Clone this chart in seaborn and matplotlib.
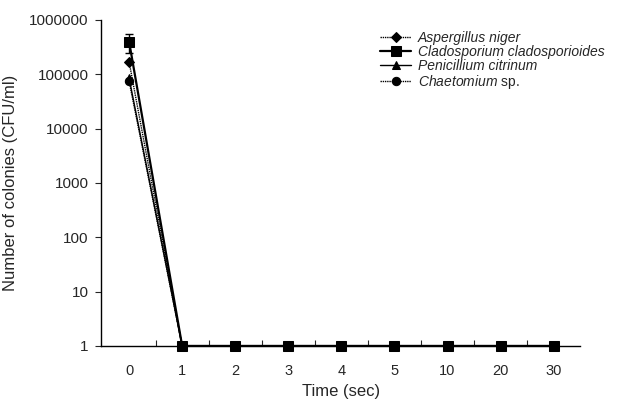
import numpy as np
import pandas as pd
import matplotlib
matplotlib.use("Agg")
import matplotlib.pyplot as plt
import seaborn as sns

# -------------------------
# Data
# -------------------------
time_labels = ["0", "1", "2", "3", "4", "5", "10", "20", "30"]

aspergillus = [170000, 1, 1, 1, 1, 1, 1, 1, 1]
cladosporium = [400000, 1, 1, 1, 1, 1, 1, 1, 1]
penicillium = [85000, 1, 1, 1, 1, 1, 1, 1, 1]
chaetomium = [75000, 1, 1, 1, 1, 1, 1, 1, 1]

cladosporium_err = [150000, 0, 0, 0, 0, 0, 0, 0, 0]

species = ["Aspergillus niger", "Cladosporium cladosporioides",
           "Penicillium citrinum", "Chaetomium sp."]
series = [aspergillus, cladosporium, penicillium, chaetomium]
markers = ["D", "s", "^", "o"]
msizes = [5, 7, 6, 6]
styles = [(0, (1, 0.6)), "-", "-", (0, (1, 0.6))]
widths = [1.0, 1.6, 1.0, 1.0]

rows = []
for name, vals in zip(species, series):
    for i, v in enumerate(vals):
        rows.append({"species": name, "pos": i, "cfu": v})
df = pd.DataFrame(rows)

# -------------------------
# Plot
# -------------------------
sns.set_style("ticks")
plt.rcParams["font.family"] = ["Liberation Sans", "DejaVu Sans"]
plt.rcParams["mathtext.fontset"] = "custom"
plt.rcParams["mathtext.it"] = "Liberation Sans:italic"
plt.rcParams["mathtext.rm"] = "Liberation Sans"

fig = plt.figure(figsize=(6.39, 3.99), dpi=100)
ax = fig.add_axes([0.158, 0.133, 0.75, 0.817])

for name, m, ms, ls, lw in zip(species, markers, msizes, styles, widths):
    sub = df[df["species"] == name]
    sns.lineplot(data=sub, x="pos", y="cfu", ax=ax, color="black",
                 marker=m, markersize=ms, linestyle=ls, linewidth=lw,
                 markeredgecolor="black", label=name, clip_on=False,
                 zorder=3)

ax.errorbar(range(len(time_labels)), cladosporium, yerr=cladosporium_err,
            fmt="none", ecolor="black", elinewidth=1, capsize=3, zorder=2)

ax.set_yscale("log")
ax.set_ylim(1, 1000000)
ax.set_yticks([1, 10, 100, 1000, 10000, 100000, 1000000])
ax.set_yticklabels(["1", "10", "100", "1000", "10000", "100000", "1000000"])
ax.yaxis.set_minor_locator(matplotlib.ticker.NullLocator())

ax.set_xlim(-0.53, 8.5)
ax.set_xticks(range(len(time_labels)))
ax.set_xticklabels(time_labels)
ax.set_xticks(np.arange(0.5, 8.5, 1), minor=True)
ax.tick_params(axis="x", which="major", length=0, pad=13, labelsize=10.5)
ax.tick_params(axis="x", which="minor", direction="in", length=4, width=0.8)
ax.tick_params(axis="y", which="major", direction="out", length=4, width=0.8,
               labelsize=11, pad=5)

ax.set_xlabel("Time (sec)", fontsize=12, labelpad=4)
ax.set_ylabel("Number of colonies (CFU/ml)", fontsize=12, labelpad=8)

for s in ["top", "right"]:
    ax.spines[s].set_visible(False)
for s in ["left", "bottom"]:
    ax.spines[s].set_linewidth(1.0)
    ax.spines[s].set_color("black")

leg = ax.legend(loc="upper left", bbox_to_anchor=(0.56, 1.0), frameon=False,
                fontsize=10, labelspacing=0.0, handlelength=2.2,
                handletextpad=0.5, borderpad=0.3)
for t in leg.get_texts():
    t.set_fontstyle("italic")
# "sp." stays upright in the reference
leg.get_texts()[3].set_text(r"$\mathit{Chaetomium}$ sp.")
leg.get_texts()[3].set_fontstyle("normal")

fig.savefig("out.png", dpi=100)
